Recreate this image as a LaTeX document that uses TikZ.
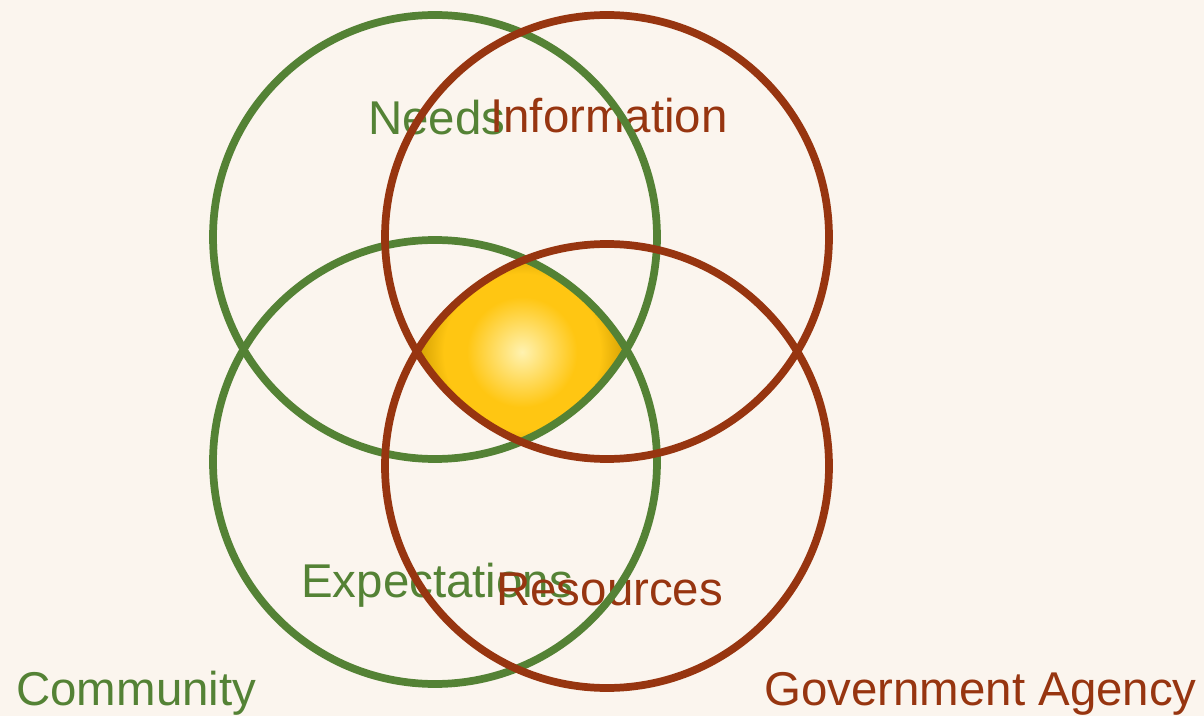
\documentclass[tikz,border=0pt]{standalone}
\usepackage{fontspec}
\setmainfont{Liberation Sans}
\usepackage{tikz}

\definecolor{paper}{HTML}{FBF5EE}
\definecolor{commgreen}{HTML}{548235}
\definecolor{govred}{HTML}{973510}
\definecolor{goldA}{HTML}{FFF2B0}
\definecolor{goldB}{HTML}{FFC612}
\definecolor{goldC}{HTML}{C99700}
\definecolor{goldD}{HTML}{FFC000}

\pgfdeclareradialshading{goldball}{\pgfpoint{0bp}{0bp}}{%
  color(0bp)=(goldA); color(12bp)=(goldB); color(17bp)=(goldB);
  color(24bp)=(goldC); color(50bp)=(goldC)}

\tikzset{
  ring/.style={line width=4.4pt},
  word/.style={anchor=base west, inner sep=0pt, font=\fontsize{27}{30}\selectfont}
}

\begin{document}
\begin{tikzpicture}[x=0.02cm,y=-0.02cm]
        \fill[paper] (0,0) rectangle (1204,716);
        \useasboundingbox (0,0) rectangle (1204,716);

        \coordinate (gt) at (435,237);
        \coordinate (gb) at (435,462);
        \coordinate (rt) at (607,237);
        \coordinate (rb) at (607,466);

        % gold centre where all four rings meet
        \begin{scope}[shift={(-4,5)}]
            \clip (gt) circle (222);
            \clip (rt) circle (222);
            \clip (gb) circle (222);
            \fill[goldD] (rb) circle (222);
        \end{scope}
        \begin{scope}
            \clip (gt) circle (222);
            \clip (rt) circle (222);
            \clip (gb) circle (222);
            \clip (rb) circle (222);
            \shade[shading=goldball] (522,352) circle (115);
        \end{scope}

        \node[word,color=commgreen] (needs) at (368,135) {Needs};
        \node[word,color=govred] (info) at (490,133) {Information};
        \node[word,color=commgreen] (expect) at (301,597) {Expectations};
        \node[word,color=govred] (res) at (496,605) {Resources};

        \draw[ring,color=commgreen] (gt) circle (222);
        \draw[ring,color=commgreen] (gb) circle (222);
        \draw[ring,color=govred] (rt) circle (222);
        \draw[ring,color=govred] (rb) circle (222);

        \node[word,color=commgreen] (comm) at (16,705) {Community};
        \node[word,color=govred] (gov) at (764,705) {Government Agency};
    \end{tikzpicture}
\end{document}
